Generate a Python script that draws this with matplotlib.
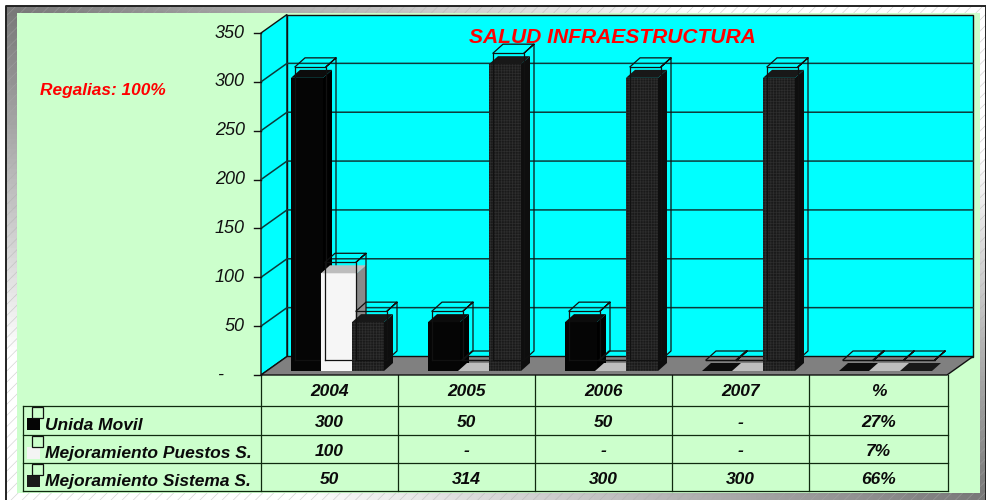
import numpy as np
import matplotlib
matplotlib.use('Agg')
import matplotlib.pyplot as plt
from matplotlib.patches import Rectangle, Polygon

plt.rcParams['font.family'] = ['Liberation Sans', 'DejaVu Sans']
plt.rcParams['hatch.linewidth'] = 0.5

title = 'SALUD INFRAESTRUCTURA'
note = 'Regalias: 100%'
columns = ['2004', '2005', '2006', '2007', '%']
names = ['Unida Movil', 'Mejoramiento Puestos S.', 'Mejoramiento Sistema S.']
unida = [300, 50, 50, 0, 0]
puestos = [100, 0, 0, 0, 0]
sistema = [50, 314, 300, 300, 0]
shares = ['27%', '7%', '66%']
y_ticks = [0, 50, 100, 150, 200, 250, 300, 350]

W, H = 987, 500
fig = plt.figure(figsize=(W / 100, H / 100), dpi=100)

# pixel axes for the frame and the table
bg = fig.add_axes([0, 0, 1, 1])
bg.set_xlim(0, W)
bg.set_ylim(H, 0)
bg.axis('off')

# band is dark along the main diagonal, white in the other two corners
yy, xx = np.mgrid[0:1:100j, 0:1:200j]
band = np.clip(0.47 + 0.75 * np.abs(xx - yy), 0, 1)
bg.imshow(band, extent=(6, 986, 500, 6), cmap='gray', vmin=0, vmax=1, aspect='auto', zorder=1)
bg.add_patch(Rectangle((6, 6), 980, 494, fc='none', ec='#aaaaaa', lw=0, hatch='///', alpha=0.5, zorder=2))
bg.plot([6, 6, 986, 986], [500, 6, 6, 500], color='#222222', lw=1.4, zorder=3)
bg.add_patch(Rectangle((17, 13), 963, 480, fc='#CCFFCC', ec='none', zorder=4))
bg.set_xlim(0, W)
bg.set_ylim(H, 0)

# table
col_x = [261, 398, 535, 672, 809, 948]
row_y = [406, 435, 463, 491]
line_col = '#0f2a0f'
for x in col_x:
    bg.plot([x, x], [375, 491], color=line_col, lw=0.9, zorder=5)
for y in row_y:
    bg.plot([23, 948], [y, y], color=line_col, lw=0.9, zorder=5)
bg.plot([23, 23], [406, 491], color=line_col, lw=0.9, zorder=5)

rows = [unida, puestos, sistema]
swatch = ['#050505', '#F4F4F4', '#1a1a1a']
tfont = dict(fontsize=12.5, fontweight='bold', fontstyle='italic', color='#0a0a0a', zorder=6)
for c, label in enumerate(columns):
    bg.text((col_x[c] + col_x[c + 1]) / 2, 392, label, ha='center', va='center', **tfont)
for r, name in enumerate(names):
    mid = (row_y[r] + row_y[r + 1]) / 2
    bg.add_patch(Rectangle((27, row_y[r] + 12), 13, 12, fc=swatch[r], ec='none', zorder=6))
    bg.add_patch(Rectangle((32, row_y[r] + 1), 11, 11, fc='none', ec='#111111', lw=0.9, zorder=6))
    bg.text(45, mid + 4.5, name, ha='left', va='center', **tfont)
    for c in range(4):
        txt = str(rows[r][c]) if rows[r][c] else '-'
        bg.text((col_x[c] + col_x[c + 1]) / 2, mid + 2, txt, ha='center', va='center', **tfont)
    bg.text((col_x[4] + col_x[5]) / 2, mid + 2, shares[r], ha='center', va='center', **tfont)

# chart axes: x in pixels, y in series units
px_per_unit = 342 / 350


def val(py):
    return (375 - py) / px_per_unit


ax = fig.add_axes([0, 0, 1, 1], zorder=2)
ax.patch.set_alpha(0)
ax.set_xlim(0, W)
ax.set_ylim(val(H), val(0))
ax.axis('off')

wall_dx, wall_dy = 26, 18.5 / px_per_unit
x_left, x_right = 261, 947
top = y_ticks[-1]
ax.add_patch(Polygon([(x_left, 0), (x_left + wall_dx, wall_dy), (x_left + wall_dx, top + wall_dy), (x_left, top)],
                     fc='#00FFFF', ec='#111111', lw=1.0, zorder=1))
ax.add_patch(Rectangle((x_left + wall_dx, wall_dy), x_right - x_left, top, fc='#00FFFF', ec='#111111', lw=1.0, zorder=1))
ax.add_patch(Polygon([(x_left, 0), (x_left + wall_dx, wall_dy), (x_right + wall_dx, wall_dy), (x_right, 0)],
                     fc='#808080', ec='#111111', lw=1.0, zorder=2))
for t in y_ticks:
    ax.plot([x_left - 7, x_left], [t, t], color='#111111', lw=1.0, zorder=2)
    if 0 < t < top:
        ax.plot([x_left, x_left + wall_dx, x_right + wall_dx], [t, t + wall_dy, t + wall_dy],
                color='#0d3b3b', lw=1.1, zorder=1.5)
    if t:
        ax.text(x_left - 16, t, str(t), ha='right', va='center', fontsize=13,
                fontstyle='italic', color='#111111', zorder=6)
    else:
        ax.text(x_left - 38, t, '-', ha='right', va='center', fontsize=13,
                fontstyle='italic', color='#111111', zorder=6)

# bars, series by series so the later one covers the earlier
cat_step = 137
group_x = 291
bar_x = [0, 30, 61]
bar_w = [32, 36, 32]
bar_base = val(371)
dx, dy = 9, 8 / px_per_unit
front = ['#050505', '#F6F6F6', '#1a1a1a']
side = ['#000000', '#8A8A8A', '#0e0e0e']
roof = ['#0c0c0c', '#BDBDBD', '#181818']
hatch = ['', '', '++++++']
hatch_col = ['#050505', '#F6F6F6', '#2e2e2e']

z = 3
for c in range(len(columns)):
    for s, series in enumerate(rows):
        v = series[c]
        x0 = group_x + c * cat_step + bar_x[s]
        x1 = x0 + bar_w[s]
        y1 = bar_base + v
        z += 1
        if v:
            ax.add_patch(Polygon([(x1, bar_base), (x1 + dx, bar_base + dy), (x1 + dx, y1 + dy), (x1, y1)],
                                 fc=side[s], ec='none', zorder=z))
            ax.add_patch(Rectangle((x0, bar_base), x1 - x0, v, fc=front[s], ec=hatch_col[s], lw=0,
                                   hatch=hatch[s], zorder=z))
        ax.add_patch(Polygon([(x0, y1), (x1, y1), (x1 + dx, y1 + dy), (x0 + dx, y1 + dy)],
                             fc=roof[s], ec='none', zorder=z))
        # wire box drawn over each bar
        wx0, wx1 = x0 + 4, x0 + 4 + 31
        wb = val(360)
        wt = wb + v
        wd, wh = 10, 9 / px_per_unit
        ax.plot([wx0, wx1, wx1, wx0, wx0], [wb, wb, wt, wt, wb], color='#111111', lw=0.9, zorder=z)
        ax.plot([wx0, wx0 + wd, wx1 + wd, wx1, wx1 + wd, wx1 + wd, wx1],
                [wt, wt + wh, wt + wh, wt, wt + wh, wb + wh, wb], color='#111111', lw=0.9, zorder=z)

ax.text(612, val(37), title, ha='center', va='center', fontsize=15.1, fontweight='bold',
        fontstyle='italic', color='#FF0000', zorder=100)
ax.text(103, val(90), note, ha='center', va='center', fontsize=12.4, fontweight='bold',
        fontstyle='italic', color='#FF0000', zorder=100)

fig.savefig('out.png', dpi=100)
